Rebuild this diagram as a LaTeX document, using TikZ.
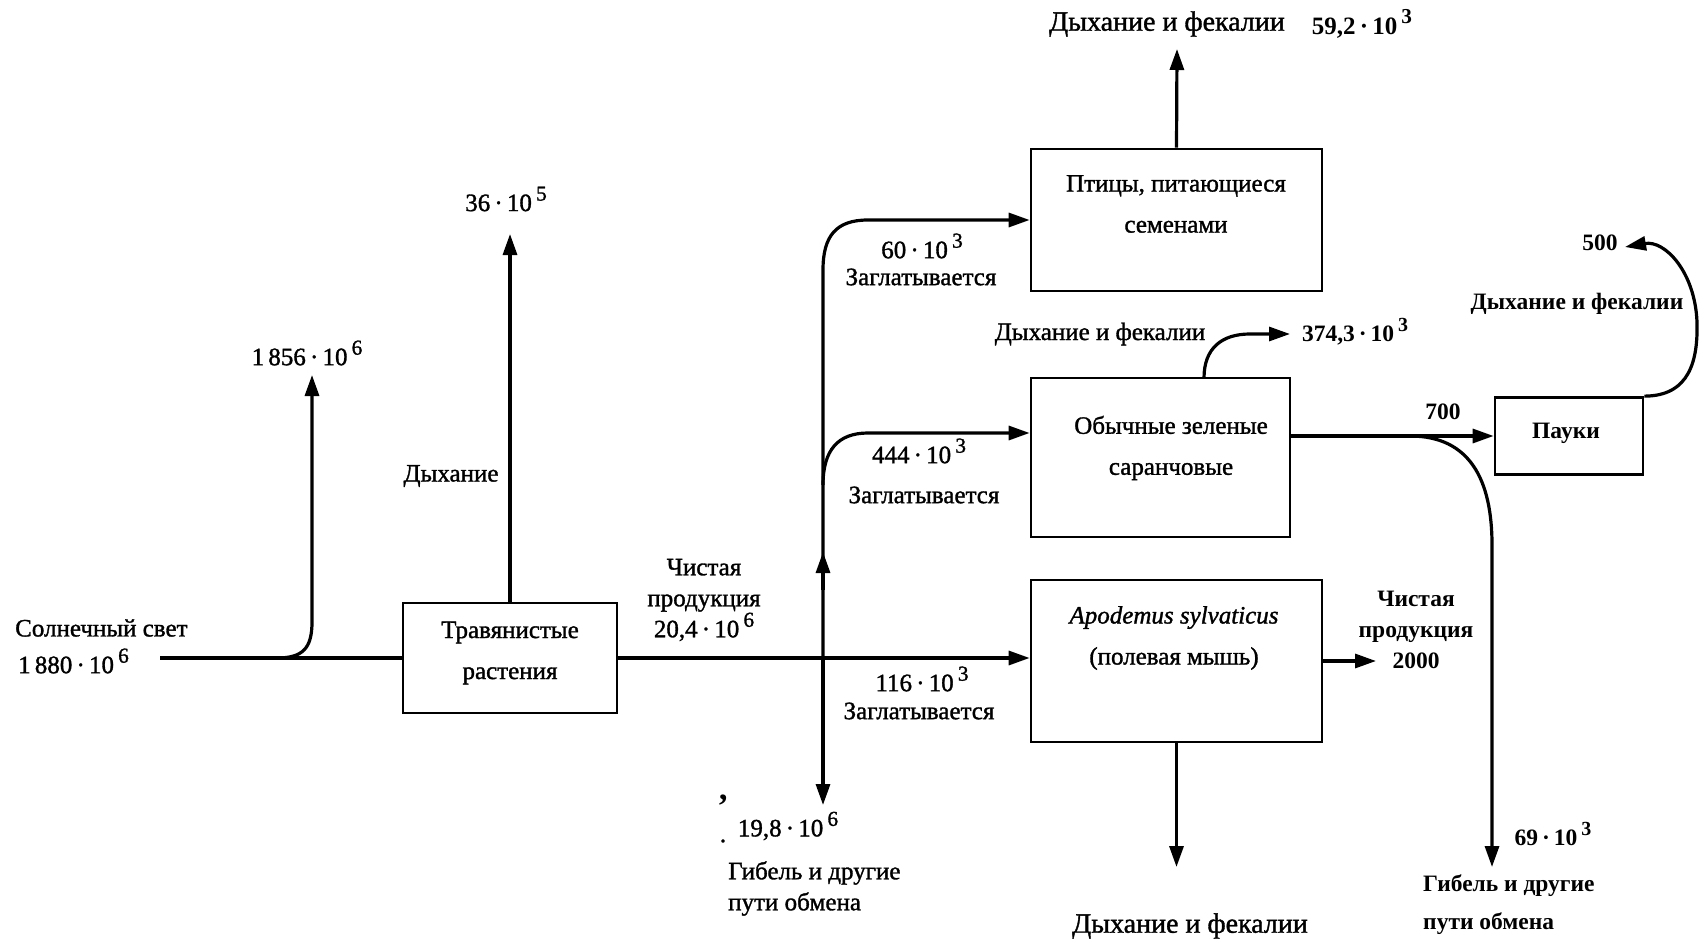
\documentclass[tikz,border=0pt]{standalone}
\usepackage{fontspec}
\setmainfont{Liberation Serif}
\newfontfamily\medfont{Liberation Serif}[FakeBold=1.3]
\usetikzlibrary{arrows.meta}
\newcommand\pw[1]{\,\raisebox{0.42em}{\scalebox{0.85}{#1}}}
\begin{document}
\begin{tikzpicture}[x=1pt,y=-1pt,
  lbl/.style={font=\medfont\fontsize{25}{31}\selectfont, inner sep=0pt, align=center},
  biglbl/.style={font=\medfont\fontsize{28}{31}\selectfont, inner sep=0pt, align=center},
  blbl/.style={font=\fontsize{23.5}{31}\selectfont\bfseries, inner sep=0pt, align=center},
  boxtxt/.style={font=\medfont\fontsize{25}{41}\selectfont, inner sep=0pt, align=center},
  box/.style={draw, line width=2.7pt, inner sep=0pt},
  flow/.style={line width=3.2pt},
  arr/.style={flow, -{Triangle[length=21pt,width=14pt]}},
]
\useasboundingbox (0,0) rectangle (1705,944);

% boxes
\node[box, minimum width=214pt, minimum height=110pt] (trav) at (510,658) {};
\node[box, minimum width=291pt, minimum height=142pt] (bird) at (1176.5,220) {};
\node[box, minimum width=259pt, minimum height=159pt] (locust) at (1160.5,457.5) {};
\node[box, minimum width=291pt, minimum height=162pt] (mouse) at (1176.5,661) {};
\node[box, minimum width=148pt, minimum height=77pt] (spider) at (1569,436) {};

% box texts
\node[boxtxt] (travtxt) at (510,653) {Травянистые\\растения};
\node[boxtxt] (birdtxt) at (1176,204) {Птицы, питающиеся\\семенами};
\node[boxtxt] (locusttxt) at (1171,448) {Обычные зеленые\\саранчовые};
\node[boxtxt] (mousetxt) at (1174,638) {\itshape Apodemus sylvaticus\\(полевая мышь)};
\node[blbl] (spidertxt) at (1566,433) {Пауки};

% coordinates
\coordinate (sun) at (160,658);
\coordinate (b1) at (277,658);
\coordinate (u1) at (312,375);
\coordinate (u2) at (510,234);
\coordinate (vx) at (823,658);
\coordinate (d1) at (823,805);
\coordinate (vtop) at (823,270);
\coordinate (vmid) at (823,485);
\coordinate (ly) at (0,433);
\coordinate (hs1) at (823,590);
\coordinate (hs2) at (823,552);
\coordinate (bt) at (1177,49);
\coordinate (lc) at (1204,378);
\coordinate (lct) at (1290,334);
\coordinate (sb) at (1410,436);
\coordinate (sd) at (1492,867);
\coordinate (st) at (1625,247);
\coordinate (m2) at (1376,661);
\coordinate (md) at (1176.5,867);

% connectors
\draw[flow] (sun) -- (trav.west);
\draw[arr] (b1) .. controls (303,658) and (312,648) .. (312,622) -- (u1);
\draw[arr] (trav.north) -- (u2);
\draw[arr] (trav.east) -- (trav.east -| mouse.west);
\draw[arr] (vx) -- (d1);
\draw[arr] (vx) -- (vtop) .. controls (823,236) and (836,220) .. (868,220) -- (bird.west);
\draw[arr] (vmid) .. controls (823,450) and (838,433) .. (868,433) -- (locust.west |- ly);
\draw[arr] (hs1) -- (hs2);
\draw[arr] (bird.north) -- (bt);
\draw[arr] (lc) .. controls (1204,348) and (1222,334) .. (1250,334) -- (lct);
\draw[arr] (locust.east |- spider.west) -- (spider.west);
\draw[arr] (sb) .. controls (1470,436) and (1492,480) .. (1492,545) -- (sd);
\draw[arr] (spider.north east) .. controls (1690,396) and (1698,360) .. (1697,322)
  .. controls (1695,272) and (1665,240) .. (st);
\draw[arr] (mouse.east |- m2) -- (m2);
\draw[arr] (mouse.south) -- (md);

% labels
\node[lbl, anchor=west] (sun1) at (15,628) {Солнечный свет};
\node[lbl, anchor=west] (sun2) at (18,661) {1\,880\,·\,10\pw{6}};
\node[lbl] (l1856) at (307,353) {1\,856\,·\,10\pw{6}};
\node[lbl] (l36) at (506,199) {36\,·\,10\pw{5}};
\node[lbl] (resp1) at (451,476) {Дыхание};
\node[lbl] (np1) at (704,600) {Чистая\\продукция\\20,4\,·\,10\pw{6}};
\node[lbl] (l60) at (922,246) {60\,·\,10\pw{3}};
\node[lbl] (z1) at (921,277) {Заглатывается};
\node[lbl] (l444) at (919,451) {444\,·\,10\pw{3}};
\node[lbl] (z2) at (924,495) {Заглатывается};
\node[lbl] (l116) at (922,679) {116\,·\,10\pw{3}};
\node[lbl] (z3) at (919,711) {Заглатывается};
\node[blbl, font=\fontsize{34}{34}\selectfont\bfseries] (mk1) at (723,806) {’};
\node[lbl] (mk2) at (723,841) {.};
\node[lbl] (l198) at (788,826) {19,8\,·\,10\pw{6}};
\node[lbl, anchor=west] (death1) at (728,873) {Гибель и другие};
\node[lbl, anchor=west] (death2) at (728,904) {пути обмена};
\node[biglbl] (resp2) at (1167,24) {Дыхание и фекалии};
\node[blbl, font=\fontsize{25}{31}\selectfont\bfseries] (l592) at (1362,24) {59,2\,·\,10\pw{3}};
\node[lbl] (resp3) at (1100,334) {Дыхание и фекалии};
\node[blbl] (l374) at (1355,332) {374,3\,·\,10\pw{3}};
\node[blbl] (l700) at (1443,412) {700};
\node[blbl] (l500) at (1600,243) {500};
\node[blbl] (resp4) at (1577,304) {Дыхание и фекалии};
\node[blbl] (np2) at (1416,630) {Чистая\\продукция\\2000};
\node[blbl] (l69) at (1553,834) {69\,·\,10\pw{3}};
\node[blbl, anchor=west] (death3) at (1423,886) {Гибель и другие};
\node[blbl, anchor=west] (death4) at (1423,924) {пути обмена};
\node[biglbl] (resp5) at (1190,926) {Дыхание и фекалии};
\end{tikzpicture}
\end{document}
